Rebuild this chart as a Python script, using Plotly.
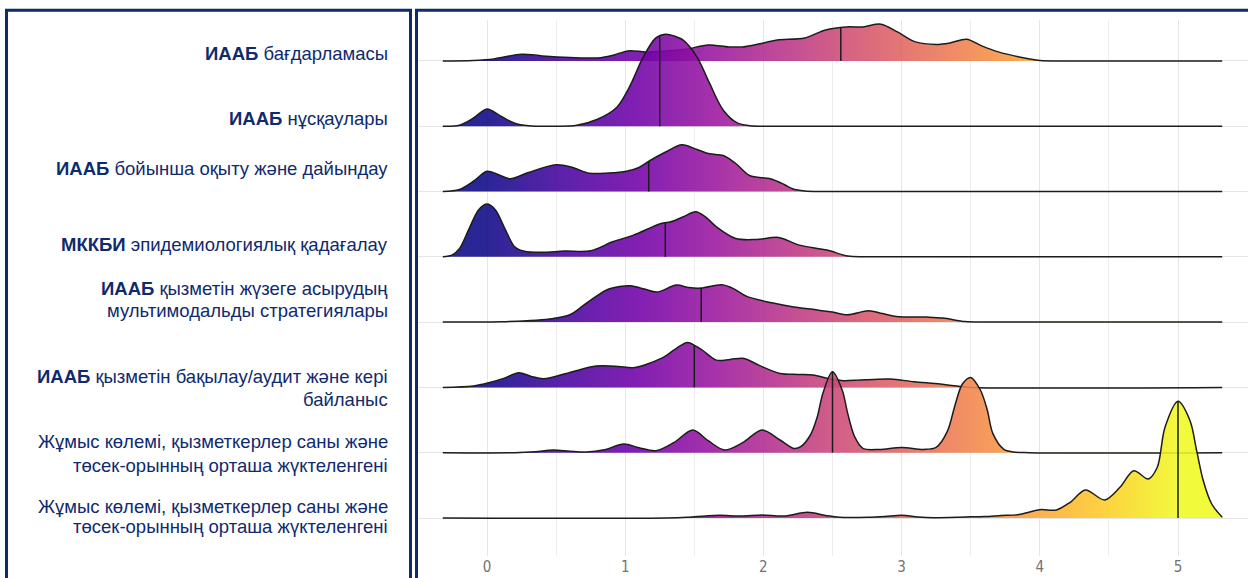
import numpy as np
import plotly.graph_objects as go

# ---------------- data ----------------
ROW_LABELS = [
    ["<b>ИААБ</b> бағдарламасы"],
    ["<b>ИААБ</b> нұсқаулары"],
    ["<b>ИААБ</b> бойынша оқыту және дайындау"],
    ["<b>МККБИ</b> эпидемиологиялық қадағалау"],
    ["<b>ИААБ</b> қызметін жүзеге асырудың", "мультимодальды стратегиялары"],
    ["<b>ИААБ</b> қызметін бақылау/аудит және кері", "байланыс"],
    ["Жұмыс көлемі, қызметкерлер саны және", "төсек-орынның орташа жүктеленгені"],
    ["Жұмыс көлемі, қызметкерлер саны және", "төсек-орынның орташа жүктеленгені"],
]

TICK_VALUES = [0, 1, 2, 3, 4, 5]
TICK_TEXT = ["0", "1", "2", "3", "4", "5"]

# density estimates (x = score, d = relative density height) per ridge
X_1 = [-0.32, -0.1, 0.05, 0.25, 0.4, 0.6, 0.8, 0.92, 1.02, 1.15, 1.3, 1.45, 1.6, 1.75, 1.85, 2.0, 2.1, 2.3,
       2.45, 2.6, 2.72, 2.85, 2.97, 3.1, 3.25, 3.35, 3.47, 3.58, 3.7, 3.85, 4.0, 4.2, 5.32]
D_1 = [0, 0.5, 2, 6.7, 5, 3.5, 3, 6, 10, 9, 10, 12, 16, 14, 14, 18, 21, 23,
       31, 34, 34, 36.7, 29, 19, 16.5, 18, 21.7, 15, 9, 4, 0.5, 0, 0]

X_2 = [-0.32, -0.2, -0.1, 0, 0.1, 0.2, 0.3, 0.5, 0.65, 0.8, 0.94, 1.03, 1.13, 1.22, 1.29, 1.36, 1.42, 1.52,
       1.61, 1.71, 1.81, 1.9, 2.1, 5.32]
D_2 = [0, 1, 8, 17.3, 10, 3, 0.5, 0, 1, 7, 19, 39, 69, 88, 92, 90, 86, 69,
       43, 16, 3.3, 0.5, 0, 0]

X_3 = [-0.32, -0.2, -0.1, 0, 0.08, 0.17, 0.3, 0.5, 0.62, 0.74, 0.88, 1.01, 1.1, 1.18, 1.3, 1.41, 1.52, 1.61,
       1.71, 1.8, 1.9, 2.05, 2.15, 2.21, 2.3, 2.45, 5.32]
D_3 = [0, 2, 10, 20.3, 17, 12.7, 19, 26.7, 24, 18.3, 18.5, 20.3, 24, 31, 40, 46.7, 42, 37.7,
       36, 28, 16, 12.7, 7, 2.7, 0.5, 0, 0]

X_4 = [-0.32, -0.25, -0.2, -0.13, -0.06, 0, 0.06, 0.13, 0.2, 0.27, 0.4, 0.56, 0.75, 0.91, 1.06, 1.26, 1.33,
       1.42, 1.51, 1.58, 1.66, 1.8, 1.95, 2.11, 2.26, 2.46, 2.61, 2.75, 5.32]
D_4 = [0, 2, 8, 28, 47, 52.7, 47, 28, 10, 5.5, 4.5, 5.7, 6, 15, 21.7, 33.3, 35,
       40, 45, 40, 30, 18.3, 17.3, 19.3, 11.7, 6.7, 0.7, 0, 0]

X_5 = [-0.32, 0.1, 0.29, 0.45, 0.6, 0.72, 0.87, 0.96, 1.04, 1.14, 1.23, 1.37, 1.46, 1.55, 1.7, 1.79, 1.88,
       2.07, 2.22, 2.38, 2.5, 2.61, 2.76, 2.86, 2.96, 3.19, 3.3, 3.46, 3.6, 5.32]
D_5 = [0, 0.3, 1.3, 3, 7.3, 19, 32.3, 35.5, 36.3, 33, 30, 37, 34.5, 34, 37.3, 33, 25.7,
       19, 15, 12.3, 10, 7.3, 11.3, 8.5, 5.7, 5, 4, 0.5, 0, 0]

X_6 = [-0.32, -0.1, 0.02, 0.12, 0.23, 0.32, 0.41, 0.6, 0.79, 0.95, 1.06, 1.26, 1.36, 1.45, 1.55, 1.66, 1.76,
       1.86, 1.97, 2.12, 2.25, 2.36, 2.47, 2.58, 2.7, 2.8, 2.92, 3.09, 3.28, 3.4, 3.5, 5.32]
D_6 = [0, 1.5, 5, 9, 14.7, 11, 8.7, 15, 21.3, 21, 19.7, 29, 38, 45, 38, 27.3, 28,
       29, 22, 14, 13, 12.3, 9, 6.7, 7.5, 8, 8.3, 5.7, 3.3, 1.3, 0, 0]

X_7 = [-0.32, 0.2, 0.35, 0.48, 0.6, 0.72, 0.85, 0.99, 1.1, 1.22, 1.35, 1.49, 1.6, 1.72, 1.85, 1.99, 2.12,
       2.22, 2.27, 2.34, 2.39, 2.43, 2.5, 2.57, 2.61, 2.66, 2.72, 2.84, 3.0, 3.16, 3.25, 3.33, 3.39, 3.44,
       3.5, 3.57, 3.62, 3.66, 3.74, 3.81, 3.92, 5.32]
D_7 = [0, 0, 1, 2.7, 1.5, 0.7, 3, 8.7, 5, 2, 10, 22.7, 12, 2.7, 10, 22.7, 12.7,
       4.3, 6, 17.7, 36, 59.3, 81, 62.7, 39.3, 16, 4.3, 3.3, 5.3, 3.3, 5.3, 21, 49.3, 68.7,
       75.3, 62.7, 42.7, 19.3, 3.3, 0.7, 0, 0]

X_8 = [-0.32, 1.3, 1.45, 1.58, 1.68, 1.84, 1.99, 2.15, 2.32, 2.45, 2.55, 2.76, 2.88, 3.0, 3.12, 3.23, 3.46,
       3.6, 3.72, 3.85, 4.0, 4.12, 4.22, 4.33, 4.47, 4.58, 4.68, 4.785, 4.85, 4.906, 5.0, 5.087, 5.135,
       5.183, 5.244, 5.32]
D_8 = [0, 0, 0.7, 2, 2.7, 2, 3, 2, 5.7, 2.5, 0.7, 0.7, 1.5, 2.7, 1, 0.3, 1,
       1.5, 2.5, 3.5, 8.3, 8, 15.7, 28, 18, 30.7, 47.3, 39, 50.7, 90.7, 116.7, 97.3, 67.3,
       37.3, 14, 0.7]

MEDIANS = [2.56, 1.25, 1.17, 1.29, 1.55, 1.5, 2.5, 5.0]

XS = [X_1, X_2, X_3, X_4, X_5, X_6, X_7, X_8]
DS = [D_1, D_2, D_3, D_4, D_5, D_6, D_7, D_8]

# ---------------- styling / layout constants ----------------
W, H = 1248, 578
NAVY = "#0f2a6e"
DENS_SCALE = 1 / 65.3          # density units -> row spacing units
PLOT_LEFT, PLOT_TOP, PLOT_BOTTOM = 418, 20, 556
X0_PX, PX_PER_X = 487, 138.2
BASE0_PX, PX_PER_ROW = 518, 65.3
LABEL_RIGHT_PX = 390
LABEL_Y_PX = [[54], [119], [169], [245], [288, 310], [376, 399], [442, 465], [506, 526]]

PLASMA_SOFT = [
    [0.0, "rgba(13,8,135,0.88)"], [0.111, "rgba(71,3,159,0.88)"], [0.222, "rgba(114,1,168,0.88)"],
    [0.333, "rgba(156,23,158,0.88)"], [0.444, "rgba(189,55,134,0.88)"], [0.556, "rgba(216,87,107,0.88)"],
    [0.667, "rgba(237,121,83,0.88)"], [0.778, "rgba(251,159,58,0.88)"], [0.889, "rgba(253,202,38,0.88)"],
    [1.0, "rgba(240,249,33,0.88)"],
]

fig = go.Figure()
n = len(XS)
for i in range(n):
    base = n - 1 - i
    x = np.array(XS[i], dtype=float)
    d = np.array(DS[i], dtype=float) * DENS_SCALE
    fig.add_trace(go.Scatter(x=[x[0], x[-1]], y=[base, base], mode="lines",
                             line=dict(width=0, color="rgba(0,0,0,0)"),
                             hoverinfo="skip", showlegend=False))
    fig.add_trace(go.Scatter(x=x, y=base + d, mode="lines",
                             line=dict(color="#1c1c1c", width=1.5, shape="spline", smoothing=0.9),
                             fill="tonexty",
                             fillgradient=dict(type="horizontal", colorscale=PLASMA_SOFT, start=0, stop=5),
                             hoverinfo="skip", showlegend=False))
    m = MEDIANS[i]
    hm = float(np.interp(m, x, d))
    fig.add_trace(go.Scatter(x=[m, m], y=[base, base + hm], mode="lines",
                             line=dict(color="#1c1c1c", width=1.5),
                             hoverinfo="skip", showlegend=False))

# labels in the left panel
annotations = []
for lines, ys in zip(ROW_LABELS, LABEL_Y_PX):
    for txt, ypx in zip(lines, ys):
        annotations.append(dict(
            text=txt, xref="paper", yref="paper",
            x=LABEL_RIGHT_PX / W, y=1 - ypx / H,
            xanchor="right", yanchor="middle", showarrow=False,
            font=dict(family="Liberation Sans, Arial, sans-serif", size=18.5, color=NAVY),
        ))

shapes = [
    dict(type="rect", xref="paper", yref="paper",
         x0=6.5 / W, x1=410.5 / W, y0=-0.05, y1=1 - 10.3 / H,
         line=dict(color=NAVY, width=3), fillcolor="rgba(0,0,0,0)", layer="above"),
    dict(type="rect", xref="paper", yref="paper",
         x0=416.5 / W, x1=1.05, y0=-0.05, y1=1 - 10.3 / H,
         line=dict(color=NAVY, width=3), fillcolor="rgba(0,0,0,0)", layer="above"),
]

fig.update_layout(
    width=W, height=H,
    margin=dict(l=0, r=0, t=0, b=0),
    paper_bgcolor="white", plot_bgcolor="white",
    annotations=annotations, shapes=shapes,
    xaxis=dict(
        domain=[PLOT_LEFT / W, 1],
        range=[(PLOT_LEFT - X0_PX) / PX_PER_X, (W - X0_PX) / PX_PER_X],
        tickvals=TICK_VALUES, ticktext=TICK_TEXT,
        showgrid=True, gridcolor="#e6e6e6", gridwidth=1,
        minor=dict(dtick=0.5, tick0=0, showgrid=True, gridcolor="#ededed", gridwidth=1),
        zeroline=False, showline=False, ticks="",
        tickfont=dict(family="Liberation Sans Narrow, DejaVu Sans Condensed, Roboto, sans-serif",
                      size=15, color="#737373"),
    ),
    yaxis=dict(
        domain=[(H - PLOT_BOTTOM) / H, (H - PLOT_TOP) / H],
        range=[(BASE0_PX - PLOT_BOTTOM) / PX_PER_ROW, (BASE0_PX - PLOT_TOP) / PX_PER_ROW],
        tickvals=list(range(n)), showticklabels=False,
        showgrid=True, gridcolor="#e6e6e6", gridwidth=1,
        zeroline=False, showline=False, ticks="",
    ),
)

fig.write_html("out.html", config={"displayModeBar": False},
               post_script="document.body.style.margin='0';document.body.style.overflow='hidden';")
